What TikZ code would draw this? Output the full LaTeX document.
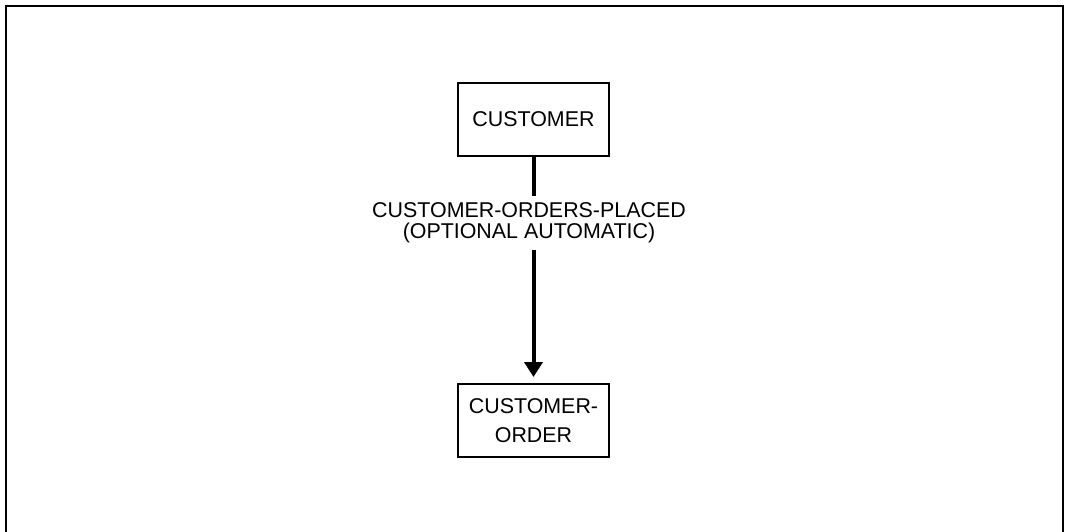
\documentclass[tikz,border=0pt]{standalone}
\usepackage{fontspec}
\setmainfont{Liberation Sans}
\usetikzlibrary{arrows.meta,positioning}

\begin{document}
\begin{tikzpicture}[line cap=butt,line join=miter,x=0.5pt,y=-0.5pt,
	entity/.style={draw,line width=1pt,minimum width=75.5pt,minimum height=36.5pt,inner sep=2pt,align=center,font=\fontsize{10.7}{14.5}\selectfont},
	rel/.style={line width=2pt},
	rellabel/.style={inner sep=0pt,minimum height=27pt,align=center,font=\fontsize{10.7}{10.5}\selectfont}]
	\useasboundingbox (0,0) rectangle (1067,531);
	% outer frame, bottom edge runs off the page
	\draw[line width=1pt] (5.5,540)--(5.5,5.5)--(1063,5.5)--(1063,540);
	% entities
	\node[entity] (cust) at (533.5,119.5) {CUSTOMER};
	\node[entity] (order) at (533.5,420.5) {CUSTOMER-\\ORDER};
	\node[rellabel] (lbl) at (529,223) {CUSTOMER-ORDERS-PLACED\\(OPTIONAL AUTOMATIC)};
	% set
	\draw[rel] (cust.south) -- (cust |- lbl.north);
	\draw[rel,-{Triangle[width=9pt,length=7.5pt]},shorten >=3pt] (cust |- lbl.south) -- (order.north);
\end{tikzpicture}
\end{document}
